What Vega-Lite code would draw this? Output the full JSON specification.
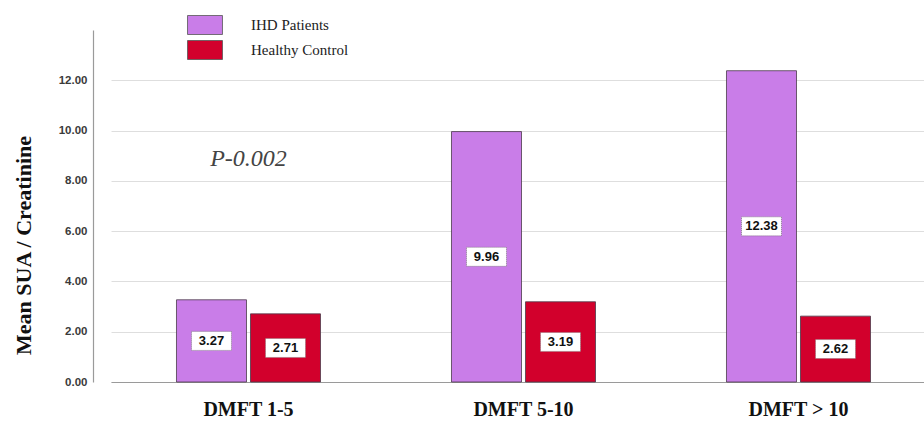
{
  "$schema": "https://vega.github.io/schema/vega-lite/v6.json",
  "width": 817,
  "height": 352,
  "autosize": "none",
  "padding": {"left": 93, "top": 30, "right": 14, "bottom": 47},
  "background": "white",
  "config": {"view": {"stroke": null}},
  "data": {"values": [
    {"group": "DMFT 1-5", "series": "IHD Patients", "value": 3.27},
    {"group": "DMFT 1-5", "series": "Healthy Control", "value": 2.71},
    {"group": "DMFT 5-10", "series": "IHD Patients", "value": 9.96},
    {"group": "DMFT 5-10", "series": "Healthy Control", "value": 3.19},
    {"group": "DMFT > 10", "series": "IHD Patients", "value": 12.38},
    {"group": "DMFT > 10", "series": "Healthy Control", "value": 2.62}
  ]},
  "encoding": {
    "x": {
      "field": "group", "type": "nominal",
      "sort": ["DMFT 1-5", "DMFT 5-10", "DMFT > 10"],
      "scale": {"range": [18, 843], "paddingInner": 0, "paddingOuter": 0},
      "axis": {
        "title": null, "labelAngle": 0, "ticks": false, "domain": true,
        "domainColor": "#9a9a9a", "domainWidth": 1.2,
        "labelFont": "Liberation Serif", "labelFontWeight": "bold", "labelFontSize": 20,
        "labelColor": "#111", "labelPadding": 17
      }
    },
    "xOffset": {
      "field": "series", "type": "nominal",
      "sort": ["IHD Patients", "Healthy Control"],
      "scale": {"paddingInner": 0.054, "paddingOuter": 0.885}
    }
  },
  "layer": [
    {
      "mark": {"type": "bar", "stroke": "#4a3a4a", "strokeWidth": 0.8},
      "encoding": {
        "y": {
          "field": "value", "type": "quantitative",
          "scale": {"domain": [0, 14], "nice": false},
          "axis": {
            "title": "Mean SUA / Creatinine", "values": [0, 2, 4, 6, 8, 10, 12], "format": ".2f",
            "ticks": false, "domain": true, "domainColor": "#9a9a9a", "domainWidth": 1.2,
            "grid": true, "gridColor": "#dedede", "gridWidth": 1,
            "labelFont": "Liberation Sans", "labelFontWeight": "bold", "labelFontSize": 11.5,
            "labelColor": "#3a3a3a", "labelPadding": 6,
            "titleFont": "Liberation Serif", "titleFontWeight": "bold", "titleFontSize": 22,
            "titleColor": "#111", "titleX": -70, "titleY": 215, "titleAngle": -90,
            "titleBaseline": "middle", "titleAlign": "center"
          }
        },
        "color": {
          "field": "series", "type": "nominal",
          "scale": {"domain": ["IHD Patients", "Healthy Control"], "range": ["#C97DE8", "#D2002C"]},
          "legend": {
            "orient": "none", "legendX": 102, "legendY": -15, "title": null, "padding": 0,
            "symbolType": "M-1.84,-1H1.84V1H-1.84Z", "symbolSize": 361,
            "symbolStrokeColor": "#555", "symbolStrokeWidth": 0.8, "symbolOpacity": 1,
            "labelFont": "Liberation Serif", "labelFontSize": 15, "labelColor": "#222",
            "labelOffset": 36, "rowPadding": 1
          }
        }
      }
    },
    {
      "transform": [{"calculate": "datum.value / 2", "as": "mid"}],
      "mark": {"type": "point", "shape": "M-1,-0.475H1V0.475H-1Z", "filled": true, "fill": "white",
               "stroke": "#666", "strokeWidth": 0.7, "strokeDash": [1, 1], "size": 1600, "opacity": 1},
      "encoding": {"y": {"field": "mid", "type": "quantitative"}}
    },
    {
      "transform": [{"calculate": "datum.value / 2", "as": "mid"}],
      "mark": {"type": "text", "font": "Liberation Sans", "fontWeight": "bold", "fontSize": 13, "color": "#111", "baseline": "middle"},
      "encoding": {
        "y": {"field": "mid", "type": "quantitative"},
        "text": {"field": "value", "type": "quantitative", "format": ".2f"}
      }
    },
    {
      "data": {"values": [{"group": "DMFT 1-5"}]},
      "mark": {"type": "text", "font": "Liberation Serif", "fontStyle": "italic", "fontSize": 24, "color": "#444", "baseline": "middle"},
      "encoding": {
        "xOffset": null,
        "y": {"datum": 8.85, "type": "quantitative"},
        "text": {"value": "P-0.002"}
      }
    }
  ]
}
